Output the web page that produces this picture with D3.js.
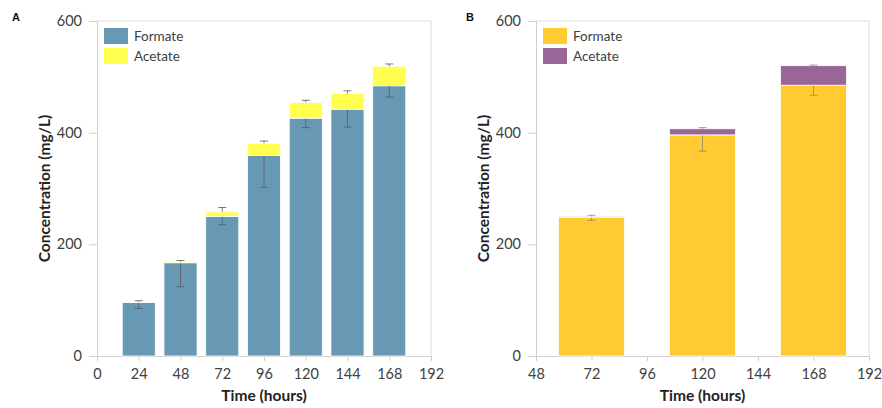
<!DOCTYPE html>
<html>
<head>
<meta charset="utf-8">
<script src="https://cdn.jsdelivr.net/npm/d3@7"></script>
<style>
  body { margin: 0; background: #fff; }
  svg { display: block; }
  .tick text { font-family: Lato, "Open Sans", sans-serif; font-size: 14.5px; fill: #404040; }
  .title { font-family: Lato, "Open Sans", sans-serif; font-size: 15.5px; font-weight: bold; fill: #222; }
  .legend text { font-family: Lato, "Open Sans", sans-serif; font-size: 13.5px; fill: #404040; }
</style>
</head>
<body>
<svg id="chart" width="882" height="408"></svg>
<script>
// panel A
const hoursA = [24, 48, 72, 96, 120, 144, 168];
const formateA = [96, 167, 250, 359, 426, 442, 484];
const acetateA = [1, 2, 8, 22, 28, 28, 35];
const formateErrA = [11, 43, 15, 57, 17, 32, 20];
const acetateErrA = [2, 2, 8, 4, 4, 5, 4];
const xTicksA = [0, 24, 48, 72, 96, 120, 144, 168, 192];

// panel B
const hoursB = [72, 120, 168];
const formateB = [248, 396, 485];
const acetateB = [2, 11, 35];
const formateErrB = [5, 29, 18];
const acetateErrB = [2, 2, 1];
const xTicksB = [48, 72, 96, 120, 144, 168, 192];

const yTicks = [0, 200, 400, 600];
const seriesNames = ["Formate", "Acetate"];

const svg = d3.select("#chart");

function drawPanel(opt) {
  const g = svg.append("g");
  const x = d3.scaleLinear().domain(opt.xDomain).range([opt.left, opt.right]);
  const y = d3.scaleLinear().domain([0, 600]).range([opt.bottom, opt.top]);

  // frame (top + right)
  g.append("path")
    .attr("d", `M${opt.left},${opt.top}H${opt.right}V${opt.bottom}`)
    .attr("fill", "none")
    .attr("stroke", "#dcdcdc");

  const yAxis = g.append("g")
    .attr("transform", `translate(${opt.left},0)`)
    .call(d3.axisLeft(y).tickValues(yTicks).tickSize(8).tickPadding(7));
  const xAxis = g.append("g")
    .attr("transform", `translate(0,${opt.bottom})`)
    .call(d3.axisBottom(x).tickValues(opt.xTicks).tickSize(5).tickPadding(8));
  [xAxis, yAxis].forEach(a => {
    a.select(".domain").attr("stroke", "#cfcfcf");
    a.selectAll(".tick line").attr("stroke", "#cfcfcf");
  });

  const bw = x(opt.barHours) - x(0);
  const rows = opt.hours.map((h, i) => ({
    h, f: opt.formate[i], a: opt.acetate[i], fe: opt.formateErr[i], ae: opt.acetateErr[i]
  }));

  // formate bars
  g.selectAll(".fbar").data(rows).join("rect")
    .attr("x", d => x(d.h) - bw / 2)
    .attr("width", bw)
    .attr("y", d => y(d.f))
    .attr("height", d => y(0) - y(d.f))
    .attr("fill", opt.colors[0])
    .attr("stroke", "#fff").attr("stroke-width", 0.8);

  // formate error (minus side)
  const fe = g.selectAll(".ferr").data(rows).join("g");
  fe.append("line")
    .attr("x1", d => x(d.h)).attr("x2", d => x(d.h))
    .attr("y1", d => y(d.f)).attr("y2", d => y(d.f - d.fe));
  fe.append("line")
    .attr("x1", d => x(d.h) - 4).attr("x2", d => x(d.h) + 4)
    .attr("y1", d => y(d.f - d.fe)).attr("y2", d => y(d.f - d.fe));
  fe.selectAll("line").attr("stroke", opt.errColor).attr("stroke-width", 0.8);

  // acetate bars
  g.selectAll(".abar").data(rows).join("rect")
    .attr("x", d => x(d.h) - bw / 2)
    .attr("width", bw)
    .attr("y", d => y(d.f + d.a))
    .attr("height", d => y(d.f) - y(d.f + d.a))
    .attr("fill", opt.colors[1])
    .attr("stroke", "#fff").attr("stroke-width", 0.8);

  // acetate error (plus side)
  const ae = g.selectAll(".aerr").data(rows).join("g");
  ae.append("line")
    .attr("x1", d => x(d.h)).attr("x2", d => x(d.h))
    .attr("y1", d => y(d.f + d.a)).attr("y2", d => y(d.f + d.a + d.ae));
  ae.append("line")
    .attr("x1", d => x(d.h) - 4).attr("x2", d => x(d.h) + 4)
    .attr("y1", d => y(d.f + d.a + d.ae)).attr("y2", d => y(d.f + d.a + d.ae));
  ae.selectAll("line").attr("stroke", opt.errColor).attr("stroke-width", 0.8);

  // legend
  const lg = g.append("g").attr("class", "legend");
  seriesNames.forEach((n, i) => {
    lg.append("rect")
      .attr("x", opt.left + 7).attr("y", opt.top + 7 + i * 20)
      .attr("width", 24).attr("height", 16)
      .attr("fill", opt.colors[i]);
    lg.append("text")
      .attr("x", opt.left + 37).attr("y", opt.top + 20 + i * 20)
      .text(n);
  });

  // titles
  g.append("text").attr("class", "title")
    .attr("text-anchor", "middle")
    .attr("transform", `translate(${opt.left - 47},${(opt.top + opt.bottom) / 2}) rotate(-90)`)
    .text("Concentration (mg/L)");
  g.append("text").attr("class", "title")
    .attr("text-anchor", "middle")
    .attr("x", (opt.left + opt.right) / 2).attr("y", 401)
    .text("Time (hours)");

  g.append("text")
    .attr("x", opt.labelX).attr("y", 21)
    .attr("font-family", "Liberation Sans, Arial, sans-serif")
    .attr("font-size", 11).attr("font-weight", "bold").attr("fill", "#111")
    .text(opt.label);
}

drawPanel({
  label: "A", labelX: 12,
  left: 97, right: 431, top: 21, bottom: 356,
  xDomain: [0, 192], xTicks: xTicksA, barHours: 19,
  hours: hoursA, formate: formateA, acetate: acetateA,
  formateErr: formateErrA, acetateErr: acetateErrA,
  colors: ["#6798b4", "#ffff4f"], errColor: "#5a5a5a"
});

drawPanel({
  label: "B", labelX: 466,
  left: 536, right: 869, top: 21, bottom: 356,
  xDomain: [48, 192], xTicks: xTicksB, barHours: 28.6,
  hours: hoursB, formate: formateB, acetate: acetateB,
  formateErr: formateErrB, acetateErr: acetateErrB,
  colors: ["#ffcb30", "#9a6698"], errColor: "#948470"
});
</script>
</body>
</html>
